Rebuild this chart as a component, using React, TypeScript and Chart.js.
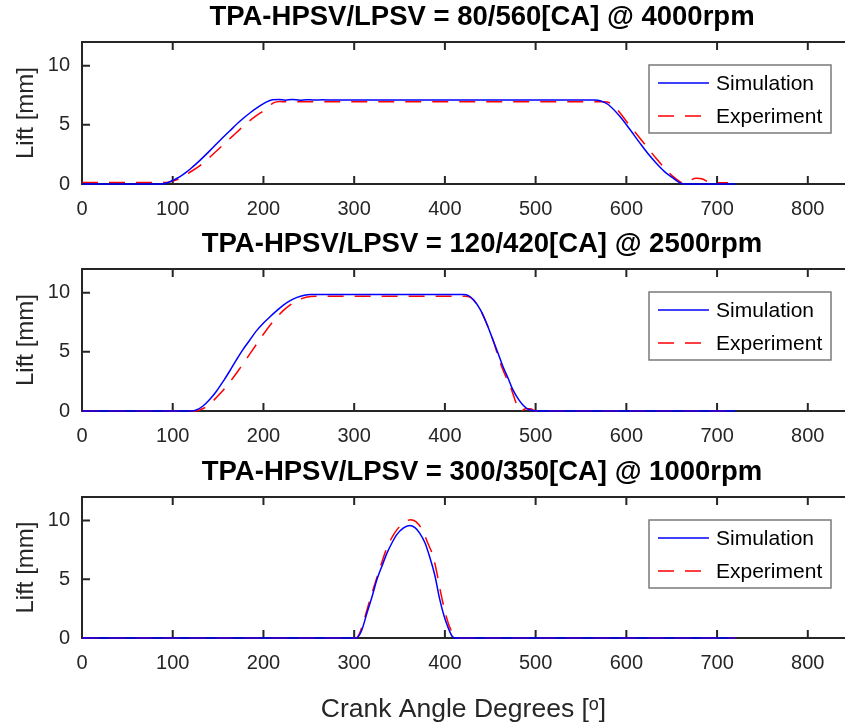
import React, { useEffect, useRef } from "react";
import { Chart, registerables } from "chart.js";

Chart.register(...registerables);

// ---------- tick labels ----------
const xTicks = [0, 100, 200, 300, 400, 500, 600, 700, 800];
const yTicks = [0, 5, 10];

// ---------- titles ----------
const panelTitles = [
  "TPA-HPSV/LPSV = 80/560[CA] @ 4000rpm",
  "TPA-HPSV/LPSV = 120/420[CA] @ 2500rpm",
  "TPA-HPSV/LPSV = 300/350[CA] @ 1000rpm",
];
const seriesNames = ["Simulation", "Experiment"];

// ---------- panel 1 ----------
const sim1Angle = [0, 88, 94, 100, 108, 115, 122, 130, 141, 152, 163, 174, 185, 196, 203, 210, 217, 224, 232, 240, 248, 256, 265, 275, 565, 572, 580, 593, 604, 615, 624, 633, 642, 651, 657, 662, 668, 720];
const sim1Lift = [0, 0, 0.1, 0.3, 0.62, 1.0, 1.45, 2.0, 2.82, 3.68, 4.5, 5.3, 6.0, 6.6, 6.92, 7.12, 7.15, 7.08, 7.14, 7.08, 7.13, 7.09, 7.11, 7.1, 7.1, 7.02, 6.72, 5.7, 4.6, 3.45, 2.55, 1.75, 1.05, 0.53, 0.2, 0.02, 0, 0];
const exp1Angle = [0, 88, 98, 108, 118, 130, 142, 154, 166, 178, 190, 202, 211, 218, 225, 575, 583, 592, 600, 611, 622, 633, 644, 652, 659, 664, 670, 677, 684, 690, 697, 712];
const exp1Lift = [0.12, 0.12, 0.2, 0.48, 0.95, 1.55, 2.35, 3.2, 4.05, 4.9, 5.65, 6.3, 6.85, 6.97, 6.95, 6.95, 6.8, 6.1, 5.3, 4.25, 3.2, 2.15, 1.2, 0.6, 0.2, 0.02, 0.3, 0.48, 0.42, 0.18, 0.1, 0.1];

// ---------- panel 2 ----------
const sim2Angle = [0, 120, 126, 133, 141, 148, 156, 163, 170, 177, 185, 192, 200, 207, 215, 222, 229, 237, 245, 252, 420, 426, 432, 439, 446, 453, 459, 464, 470, 475, 481, 486, 491, 496, 502, 720];
const sim2Lift = [0, 0, 0.08, 0.4, 1.0, 1.65, 2.55, 3.4, 4.3, 5.15, 6.0, 6.75, 7.43, 7.95, 8.5, 8.95, 9.3, 9.6, 9.78, 9.84, 9.84, 9.75, 9.35, 8.56, 7.4, 6.0, 4.8, 3.76, 2.7, 1.78, 1.0, 0.5, 0.18, 0.04, 0, 0];
const exp2Angle = [0, 125, 134, 143, 152, 163, 174, 183, 192, 202, 211, 222, 232, 242, 252, 260, 422, 428, 433, 439, 446, 453, 460, 466, 472, 477, 481, 484, 489, 494, 500, 720];
const exp2Lift = [0, 0, 0.23, 0.75, 1.45, 2.45, 3.6, 4.6, 5.6, 6.7, 7.6, 8.5, 9.1, 9.5, 9.68, 9.7, 9.7, 9.6, 9.25, 8.56, 7.4, 6.0, 4.3, 3.1, 2.1, 1.0, 0.2, 0, 0.2, 0.2, 0, 0];

// ---------- panel 3 ----------
const sim3Angle = [0, 302, 308, 314, 320, 325, 331, 336, 342, 347, 354, 361, 367, 372, 378, 383, 389, 394, 399, 404, 408, 411, 720];
const sim3Lift = [0, 0, 0.6, 2.1, 3.6, 4.96, 6.2, 7.2, 8.15, 8.8, 9.35, 9.58, 9.4, 8.95, 8.1, 6.95, 5.3, 3.4, 1.9, 0.8, 0.15, 0, 0];
const exp3Angle = [0, 302, 306, 311, 316, 322, 329, 336, 342, 347, 355, 362, 368, 376, 381, 387, 391, 394, 399, 404, 409, 413, 720];
const exp3Lift = [0, 0, 0.4, 1.56, 2.9, 4.4, 6.1, 7.66, 8.6, 9.2, 9.8, 10.07, 9.9, 9.07, 8.1, 6.95, 5.6, 4.4, 2.6, 1.2, 0.35, 0, 0];

const FONT = "'Liberation Sans', Arial, 'DejaVu Sans', sans-serif";
const AXIS_COLOR = "#262626";

const toXY = (a: number[], l: number[]) => a.map((x, i) => ({ x, y: l[i] }));

const framePlugin = {
  id: "matlabFrame",
  beforeDatasetsDraw(chart: any) {
    const { ctx, chartArea, scales } = chart;
    const { left, right, top, bottom } = chartArea;
    ctx.save();
    ctx.strokeStyle = AXIS_COLOR;
    ctx.lineWidth = 2;
    ctx.beginPath();
    ctx.moveTo(right + 2, top);
    ctx.lineTo(left, top);
    ctx.lineTo(left, bottom);
    ctx.lineTo(right + 2, bottom);
    const tl = 8;
    for (const v of xTicks) {
      const px = scales.x.getPixelForValue(v);
      if (Math.abs(px - left) < 2) continue;
      ctx.moveTo(px, bottom);
      ctx.lineTo(px, bottom - tl);
      ctx.moveTo(px, top);
      ctx.lineTo(px, top + tl);
    }
    for (const v of yTicks) {
      const py = scales.y.getPixelForValue(v);
      if (Math.abs(py - bottom) < 2) continue;
      ctx.moveTo(left, py);
      ctx.lineTo(left + tl, py);
    }
    ctx.stroke();
    ctx.restore();
  },
};

const panelTitlePlugin = {
  id: "panelTitle",
  afterDraw(chart: any, _args: any, opts: any) {
    const { ctx } = chart;
    ctx.save();
    ctx.font = `bold 27.5px ${FONT}`;
    ctx.fillStyle = "#000000";
    ctx.textAlign = "center";
    ctx.textBaseline = "middle";
    ctx.fillText(opts.text, opts.x, opts.y);
    ctx.restore();
  },
};

const legendPlugin = {
  id: "boxLegend",
  afterDatasetsDraw(chart: any) {
    const { ctx, chartArea } = chart;
    const w = 182, h = 68;
    const bx = chartArea.right - 14 - w;
    const by = chartArea.top + 23;
    ctx.save();
    ctx.fillStyle = "#ffffff";
    ctx.fillRect(bx, by, w, h);
    ctx.strokeStyle = "#7a7a7a";
    ctx.lineWidth = 1.5;
    ctx.strokeRect(bx, by, w, h);
    ctx.font = `21px ${FONT}`;
    ctx.textBaseline = "middle";
    ctx.textAlign = "left";
    chart.data.datasets.forEach((ds: any, i: number) => {
      const ry = by + 18 + i * 33;
      ctx.strokeStyle = ds.borderColor;
      ctx.lineWidth = ds.borderWidth;
      ctx.setLineDash(ds.borderDash || []);
      ctx.beginPath();
      ctx.moveTo(bx + 9, ry);
      ctx.lineTo(bx + 60, ry);
      ctx.stroke();
      ctx.setLineDash([]);
      ctx.fillStyle = "#000000";
      ctx.fillText(ds.label, bx + 67, ry + 1);
    });
    ctx.restore();
  },
};

type PanelProps = {
  top: number;
  height: number;
  title: string;
  sim: { x: number; y: number }[];
  exp: { x: number; y: number }[];
  showXTitle: boolean;
};

function Panel({ top, height, title, sim, exp, showXTitle }: PanelProps) {
  const ref = useRef<HTMLCanvasElement>(null);
  useEffect(() => {
    if (!ref.current) return;
    const bottomArea = showXTitle ? 89 : 44;
    const chart = new Chart(ref.current, {
      type: "line",
      data: {
        datasets: [
          {
            label: seriesNames[0],
            data: sim,
            borderColor: "#0000ff",
            borderWidth: 1.5,
            pointRadius: 0,
            cubicInterpolationMode: "monotone",
            fill: false,
            clip: 6,
          } as any,
          {
            label: seriesNames[1],
            data: exp,
            borderColor: "#ff0000",
            borderWidth: 1.5,
            borderDash: [16, 11],
            pointRadius: 0,
            cubicInterpolationMode: "monotone",
            fill: false,
            clip: 6,
          } as any,
        ],
      },
      options: {
        responsive: false,
        animation: false,
        events: [],
        layout: { padding: { top: 42, left: 0, right: 0, bottom: 0 } },
        plugins: {
          legend: { display: false },
          tooltip: { enabled: false },
          title: { display: false },
          panelTitle: { text: title, x: 482, y: 17 },
        },
        scales: {
          x: {
            type: "linear",
            min: 0,
            max: 841,
            grid: { display: false, drawTicks: false },
            border: { display: false },
            ticks: {
              color: AXIS_COLOR,
              font: { family: FONT, size: 20 },
              padding: 13,
              maxRotation: 0,
              autoSkip: false,
            },
            afterBuildTicks: (s: any) => {
              s.ticks = xTicks.map((v) => ({ value: v }));
            },
            afterFit: (s: any) => {
              s.height = bottomArea;
            },
            title: showXTitle
              ? {
                  display: true,
                  text: "Crank Angle Degrees [ᵒ]",
                  color: AXIS_COLOR,
                  font: { family: FONT, size: 26.5, lineHeight: 1 },
                  padding: { top: 0, bottom: 4 },
                }
              : { display: false },
          },
          y: {
            type: "linear",
            min: 0,
            max: 12,
            grid: { display: false, drawTicks: false },
            border: { display: false },
            ticks: {
              color: AXIS_COLOR,
              font: { family: FONT, size: 20 },
              padding: 12,
            },
            afterBuildTicks: (s: any) => {
              s.ticks = yTicks.map((v) => ({ value: v }));
            },
            afterFit: (s: any) => {
              s.width = 82;
            },
            title: {
              display: true,
              text: "Lift [mm]",
              color: AXIS_COLOR,
              font: { family: FONT, size: 24, lineHeight: 1 },
              padding: { top: 14, bottom: 0 },
            },
          },
        },
      } as any,
      plugins: [framePlugin, legendPlugin, panelTitlePlugin],
    });
    return () => chart.destroy();
  }, []);
  return (
    <canvas
      ref={ref}
      width={845}
      height={height}
      style={{ position: "absolute", left: 0, top, width: 845, height }}
    />
  );
}

export default function App() {
  return (
    <div
      style={{
        position: "absolute",
        left: 0,
        top: 0,
        width: 845,
        height: 727,
        background: "#ffffff",
        overflow: "hidden",
      }}
    >
      <Panel top={0} height={228} title={panelTitles[0]} sim={toXY(sim1Angle, sim1Lift)} exp={toXY(exp1Angle, exp1Lift)} showXTitle={false} />
      <Panel top={227} height={228} title={panelTitles[1]} sim={toXY(sim2Angle, sim2Lift)} exp={toXY(exp2Angle, exp2Lift)} showXTitle={false} />
      <Panel top={455} height={272} title={panelTitles[2]} sim={toXY(sim3Angle, sim3Lift)} exp={toXY(exp3Angle, exp3Lift)} showXTitle={true} />
    </div>
  );
}
